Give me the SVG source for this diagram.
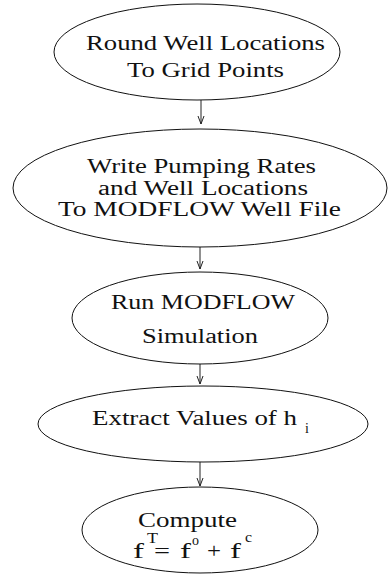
<svg xmlns="http://www.w3.org/2000/svg" width="388" height="577" viewBox="0 0 388 577">
<style>
.n ellipse{fill:none;stroke:#111;stroke-width:1}
.c line{stroke:#222;stroke-width:1}
</style>
<defs>
<marker id="ah" markerWidth="10" markerHeight="10" refX="9" refY="5" orient="auto" markerUnits="userSpaceOnUse" viewBox="0 0 10 10">
<path d="M1,2 L9,5 L1,8" fill="none" stroke="#222" stroke-width="1"/>
</marker>
</defs>
<rect width="388" height="577" fill="#fff"/>
<g id="connectors" class="c">
<line x1="201" y1="100" x2="201" y2="124" marker-end="url(#ah)"/>
<line x1="200" y1="247" x2="200" y2="269" marker-end="url(#ah)"/>
<line x1="200" y1="364" x2="200" y2="384" marker-end="url(#ah)"/>
<line x1="200" y1="462" x2="200" y2="486" marker-end="url(#ah)"/>
</g>
<g id="nodes" font-family="Liberation Serif, serif" font-size="20" fill="#111">
<g id="node1" class="n">
<ellipse cx="197" cy="52" rx="143" ry="48"/>
<text x="86" y="50" textLength="239" lengthAdjust="spacingAndGlyphs">Round Well Locations</text>
<text x="127" y="77" textLength="157" lengthAdjust="spacingAndGlyphs">To Grid Points</text>
</g>
<g id="node2" class="n">
<ellipse cx="200" cy="188" rx="187" ry="59"/>
<text x="87" y="173" textLength="229" lengthAdjust="spacingAndGlyphs">Write Pumping Rates</text>
<text x="98" y="195" textLength="210" lengthAdjust="spacingAndGlyphs">and Well Locations</text>
<text x="58" y="216" textLength="283" lengthAdjust="spacingAndGlyphs">To MODFLOW Well File</text>
</g>
<g id="node3" class="n">
<ellipse cx="200" cy="318" rx="128" ry="46"/>
<text x="111" y="309" textLength="184" lengthAdjust="spacingAndGlyphs">Run MODFLOW</text>
<text x="142" y="343" textLength="116" lengthAdjust="spacingAndGlyphs">Simulation</text>
</g>
<g id="node4" class="n">
<ellipse cx="203" cy="424" rx="165" ry="38"/>
<text x="92" y="425" textLength="205" lengthAdjust="spacingAndGlyphs">Extract Values of h</text>
<text x="305" y="433" font-size="14">i</text>
</g>
<g id="node5" class="n">
<ellipse cx="200" cy="530" rx="118" ry="43"/>
<text x="138" y="527" textLength="99" lengthAdjust="spacingAndGlyphs">Compute</text>
<text x="133" y="558" textLength="11" lengthAdjust="spacingAndGlyphs">f</text>
<text x="147" y="543" font-size="14" textLength="11" lengthAdjust="spacingAndGlyphs">T</text>
<text x="154" y="558" textLength="16" lengthAdjust="spacingAndGlyphs">=</text>
<text x="180" y="558" textLength="11" lengthAdjust="spacingAndGlyphs">f</text>
<text x="192" y="545" font-size="14" textLength="7" lengthAdjust="spacingAndGlyphs">o</text>
<text x="207" y="558" textLength="14" lengthAdjust="spacingAndGlyphs">+</text>
<text x="230" y="558" textLength="11" lengthAdjust="spacingAndGlyphs">f</text>
<text x="245" y="542" font-size="14" textLength="7" lengthAdjust="spacingAndGlyphs">c</text>
</g>
</g>
</svg>
